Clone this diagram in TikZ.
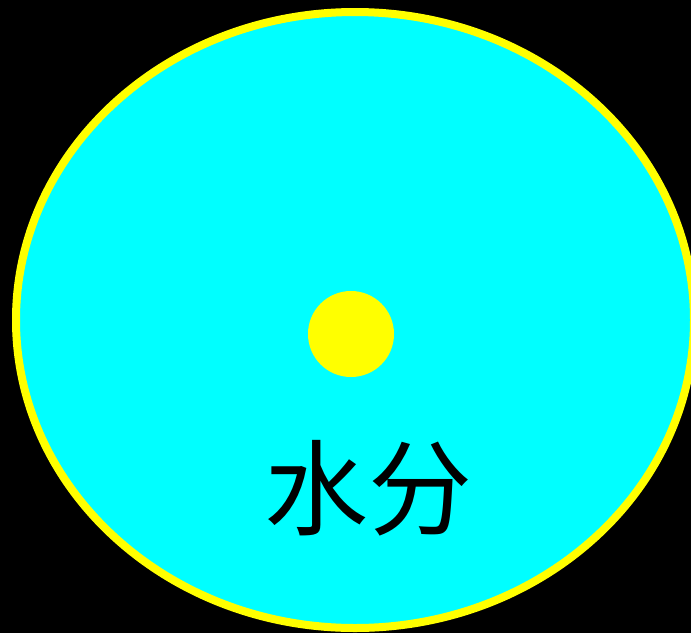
\documentclass[tikz,border=0pt]{standalone}
\usepackage{fontspec}
\newfontfamily\cjk{Noto Sans CJK SC}
\definecolor{aqua}{RGB}{0,255,255}
\definecolor{ylw}{RGB}{255,255,0}
\definecolor{blk}{RGB}{0,0,0}
\begin{document}
\begin{tikzpicture}[x=1pt,y=-1pt,
  outer/.style={draw=ylw,fill=aqua,line width=8pt},
  dot/.style={fill=ylw},
  lbl/.style={font=\cjk\fontsize{104}{110}\selectfont,text=blk,inner sep=0pt}]
\fill[blk] (0,0) rectangle (691,633);
\useasboundingbox (0,0) rectangle (691,633);
\path[outer] (355,320) ellipse [x radius=339, y radius=308];
\fill[dot] (351,334) circle [radius=43];
\node[lbl] (t) at (368,488) {水分};
\end{tikzpicture}
\end{document}
